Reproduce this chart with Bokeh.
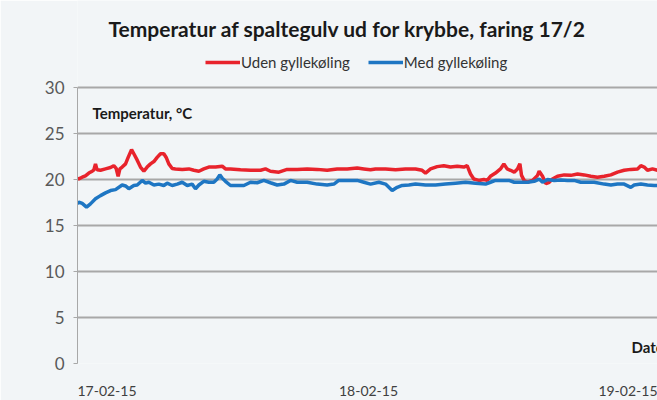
from bokeh.plotting import figure
from bokeh.models import (Range1d, FixedTicker, Label, Legend, LegendItem)
from bokeh.embed import file_html
from bokeh.resources import INLINE

title_text = "Temperatur af spaltegulv ud for krybbe, faring 17/2"
series_names = ["Uden gyllekøling", "Med gyllekøling"]
y_label_text = "Temperatur, °C"
x_label_text = "Dato"

tick_hours = [0, 24, 48]
tick_labels = ["17-02-15", "18-02-15", "19-02-15"]
y_ticks = [0, 5, 10, 15, 20, 25, 30]

# Uden gyllekøling (red): hours since 17-02-15 00:00, temperature °C
red_h = [0.0, 0.12, 0.43, 0.73, 1.04, 1.35, 1.50, 1.65, 1.80, 2.11, 2.57, 3.03, 3.33,
         3.55, 3.73, 3.89, 4.10, 4.41, 4.65, 4.96, 5.17, 5.48, 5.78, 6.09, 6.39, 6.70,
         7.01, 7.31, 7.62, 7.92, 8.14, 8.38, 8.69, 8.99, 9.61, 10.22, 10.68, 11.14,
         11.59, 12.05, 12.67, 13.28, 13.58, 14.04, 14.96, 15.88, 16.80, 17.25, 17.71,
         18.48, 19.24, 20.16, 21.08, 22.00, 22.91, 23.83, 24.75, 25.67, 26.28, 26.89,
         27.35, 28.27, 29.19, 30.10, 31.02, 31.63, 31.94, 32.40, 33.01, 33.62, 34.23,
         34.85, 35.46, 35.76, 36.07, 36.37, 36.83, 37.29, 37.60, 37.90, 38.36, 38.82,
         39.13, 39.43, 39.74, 40.08, 40.38, 40.60, 40.75, 40.99, 41.30, 41.76, 42.22,
         42.37, 42.68, 42.98, 43.29, 43.59, 44.05, 44.67, 45.28, 45.89, 46.50, 47.11,
         47.72, 48.34, 48.95, 49.56, 50.17, 50.78, 51.40, 51.70, 52.01, 52.31, 52.77,
         53.23]
red_t = [20.1, 20.07, 20.25, 20.4, 20.7, 20.9, 21.05, 21.7, 21.05, 21.0, 21.15, 21.3, 21.5,
         21.2, 20.35, 21.15, 21.35, 21.7, 22.4, 23.25, 22.8, 22.1, 21.35, 20.9, 21.35, 21.7,
         21.95, 22.4, 22.8, 22.8, 22.4, 21.7, 21.2, 21.15, 21.1, 21.15, 21.0, 20.9,
         21.15, 21.35, 21.35, 21.45, 21.15, 21.15, 21.05, 21.0, 21.0, 21.15, 20.9,
         20.8, 21.1, 21.1, 21.15, 21.1, 21.0, 21.15, 21.15, 21.25, 21.15, 21.05,
         21.15, 21.15, 21.05, 21.15, 21.15, 21.0, 20.7, 21.15, 21.4, 21.5, 21.35,
         21.45, 21.35, 21.5, 20.6, 20.05, 19.9, 20.0, 19.9, 20.35, 20.7, 21.15,
         21.7, 21.15, 21.0, 20.8, 21.15, 21.7, 20.45, 19.9, 19.7, 19.9, 20.45,
         20.9, 20.35, 19.55, 19.7, 20.05, 20.35, 20.5, 20.45, 20.6, 20.5, 20.35,
         20.25, 20.35, 20.5, 20.8, 21.0, 21.1, 21.15, 21.5, 21.35, 21.0, 21.15,
         21.0]

# Med gyllekøling (blue)
blue_h = [0.0, 0.12, 0.43, 0.83, 1.19, 1.65, 2.11, 2.57, 3.03, 3.49, 4.10, 4.41, 4.71,
          5.17, 5.48, 5.94, 6.24, 6.55, 7.01, 7.46, 7.92, 8.23, 8.69, 9.15, 9.61, 10.07,
          10.52, 10.83, 11.14, 11.59, 12.05, 12.51, 12.82, 13.06, 13.28, 13.58, 14.04,
          14.65, 15.27, 15.88, 16.49, 17.10, 17.71, 18.33, 18.94, 19.55, 20.16, 21.08,
          22.00, 22.91, 23.53, 23.98, 24.75, 25.67, 26.28, 26.89, 27.66, 28.27, 28.88,
          29.34, 29.80, 30.41, 31.02, 31.94, 32.86, 33.77, 34.69, 35.61, 36.53, 37.45,
          37.90, 38.36, 38.98, 39.59, 40.08, 40.69, 41.30, 41.91, 42.37, 42.68, 43.14,
          43.75, 44.36, 44.97, 45.58, 46.19, 46.81, 47.42, 48.34, 48.95, 49.56, 50.17,
          50.78, 51.09, 51.70, 52.31, 52.92, 53.23]
blue_t = [17.35, 17.55, 17.4, 17.0, 17.35, 17.9, 18.25, 18.55, 18.8, 18.9, 19.4, 19.3, 19.0,
          19.35, 19.4, 19.9, 19.6, 19.7, 19.4, 19.5, 19.35, 19.6, 19.35, 19.5, 19.7, 19.35,
          19.5, 19.0, 19.4, 19.8, 19.7, 19.7, 20.05, 20.5, 20.15, 19.8, 19.35,
          19.35, 19.35, 19.7, 19.65, 19.9, 19.65, 19.4, 19.5, 19.9, 19.7, 19.7,
          19.5, 19.4, 19.5, 19.9, 19.9, 19.9, 19.7, 19.5, 19.7, 19.5, 18.8,
          19.15, 19.35, 19.4, 19.5, 19.4, 19.4, 19.5, 19.6, 19.7, 19.6, 19.5,
          19.7, 19.9, 19.9, 19.9, 19.7, 19.7, 19.7, 19.8, 20.05, 19.7, 20.0,
          19.9, 19.95, 19.9, 19.9, 19.7, 19.7, 19.7, 19.5, 19.4, 19.5, 19.5,
          19.15, 19.4, 19.5, 19.4, 19.35, 19.35]

FONT = "Lato"
BG = "#f2f5f7"
RED = "#e8232c"
BLUE = "#1e76c3"
X_END = 53.23
Y_TOP = 39.457   # frame reaches the top of the canvas; the axis itself spans 0-30

p = figure(width=657, height=400, output_backend="svg", toolbar_location=None,
           x_range=Range1d(0, X_END), y_range=Range1d(0, Y_TOP),
           min_border_left=77, min_border_right=0, min_border_top=0, min_border_bottom=37,
           background_fill_color=BG, border_fill_color=BG, outline_line_color=None)

r_red = p.line(red_h, red_t, line_color=RED, line_width=3.5)
r_blue = p.line(blue_h, blue_t, line_color=BLUE, line_width=3.5)

# Grid
p.xgrid.visible = False
p.ygrid.ticker = FixedTicker(ticks=y_ticks)
p.ygrid.grid_line_color = "#a8a8a8"
p.ygrid.grid_line_width = 2

# Y axis
ax = p.yaxis[0]
ax.ticker = FixedTicker(ticks=y_ticks)
ax.bounds = (0, 30)
ax.axis_line_color = "#a8a8a8"
ax.axis_line_width = 1
ax.major_tick_line_color = "#a8a8a8"
ax.major_tick_out = 4
ax.major_tick_in = 0
ax.minor_tick_line_color = None
ax.major_label_standoff = 9
ax.major_label_text_font = FONT
ax.major_label_text_font_size = "17px"
ax.major_label_text_color = "#595959"

# X axis: date labels start at their date (label centre shifted right by half its width)
label_half_width_px = 29.5
shift = label_half_width_px / 580 * X_END
xa = p.xaxis[0]
tick_pos = [h + shift for h in tick_hours]
xa.ticker = FixedTicker(ticks=tick_pos)
xa.major_label_overrides = {pos: lab for pos, lab in zip(tick_pos, tick_labels)}
xa.axis_line_color = None
xa.major_tick_line_color = None
xa.minor_tick_line_color = None
xa.major_label_standoff = 16
xa.major_label_text_font = FONT
xa.major_label_text_font_size = "14px"
xa.major_label_text_color = "#404040"

# Title and inner labels
p.add_layout(Label(x=24.78, y=36.41, text=title_text, text_font=FONT,
                   text_font_style="bold", text_font_size="21px", text_color="#1a1a1a",
                   text_align="center", text_baseline="middle"))
p.add_layout(Label(x=1.38, y=27.28, text=y_label_text, text_font=FONT,
                   text_font_style="bold", text_font_size="15px", text_color="#1a1a1a",
                   text_align="left", text_baseline="middle"))
p.add_layout(Label(x=50.84, y=1.74, text=x_label_text, text_font=FONT,
                   text_font_style="bold", text_font_size="15px", text_color="#1a1a1a",
                   text_align="left", text_baseline="middle"))

legend = Legend(items=[LegendItem(label=series_names[0], renderers=[r_red]),
                       LegendItem(label=series_names[1], renderers=[r_blue])],
                orientation="horizontal", location=(128, 292),
                padding=0, margin=0, spacing=18, label_standoff=1,
                glyph_width=35, glyph_height=14, label_height=14,
                label_text_font=FONT, label_text_font_size="15px",
                label_text_color="#333333",
                background_fill_alpha=0, border_line_alpha=0)
p.add_layout(legend, "center")

open("out.html", "w").write(file_html(p, INLINE))
